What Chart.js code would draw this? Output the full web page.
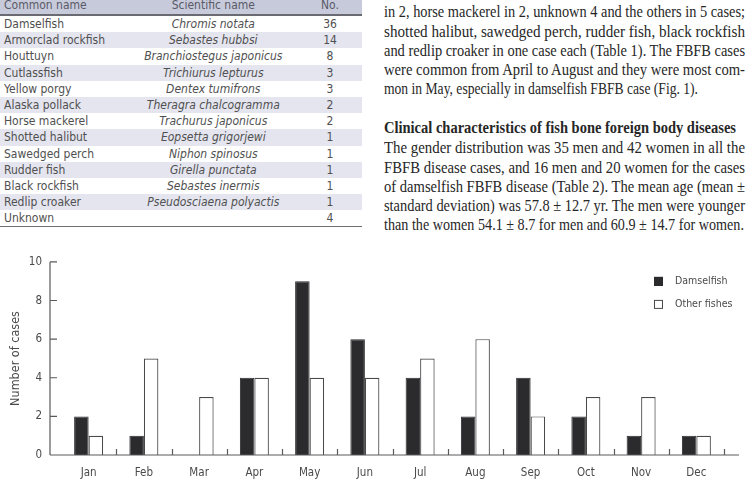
<!DOCTYPE html>
<html>
<head>
<meta charset="utf-8">
<script src="https://cdn.jsdelivr.net/npm/chart.js@4/dist/chart.umd.min.js"></script>
<style>
  html, body { margin:0; padding:0; background:#fff; width:746px; height:488px; overflow:hidden; position:relative; }
  #tbl { position:absolute; left:0; top:-4px; width:362px; border-collapse:collapse;
         font-family:'Liberation Sans Narrow','DejaVu Sans Condensed',sans-serif; font-size:12px; color:#505050; }
  #tbl th { font-weight:normal; color:#5a5a66; background:#c7cadb; height:18px; padding:0; border-bottom:2px solid #6a6a72; }
  #tbl td { height:16.2px; padding:0; line-height:16px; }
  #tbl tr.alt td { background:#e4e5ef; }
  #tbl tbody tr:last-child td { border-bottom:1.5px solid #707070; }
  .c1 { text-align:left; padding-left:4px !important; }
  .c2 { text-align:center; font-style:italic; }
  .c3 { text-align:center; width:64px; }
  #txt div { position:absolute; left:384px; height:20px; line-height:20px; white-space:nowrap;
             font-family:'Liberation Serif','DejaVu Serif',serif; font-size:16.3px; color:#262626; }
  #txt span { display:inline-block; transform-origin:0 50%; }
  #wrap { position:absolute; left:0; top:236px; width:746px; height:252px; }
</style>
</head>
<body>
<table id="tbl"><thead><tr><th class="c1">Common name</th><th class="c2" style="font-style:normal">Scientific name</th><th class="c3">No.</th></tr></thead><tbody id="tb"></tbody></table>
<div id="txt"></div>
<div id="wrap"><canvas id="c" width="746" height="252"></canvas></div>
<script>
// ---- Table 1 data ----
const commonNames = ['Damselfish','Armorclad rockfish','Houttuyn','Cutlassfish','Yellow porgy','Alaska pollack','Horse mackerel','Shotted halibut','Sawedged perch','Rudder fish','Black rockfish','Redlip croaker','Unknown'];
const scientificNames = ['Chromis notata','Sebastes hubbsi','Branchiostegus japonicus','Trichiurus lepturus','Dentex tumifrons','Theragra chalcogramma','Trachurus japonicus','Eopsetta grigorjewi','Niphon spinosus','Girella punctata','Sebastes inermis','Pseudosciaena polyactis',''];
const caseCounts = [36,14,8,3,3,2,2,1,1,1,1,1,4];

// ---- Figure 1 data ----
const months = ['Jan','Feb','Mar','Apr','May','Jun','Jul','Aug','Sep','Oct','Nov','Dec'];
const damselfish = [2,1,0,4,9,6,4,2,4,2,1,1];
const otherFishes = [1,5,3,4,4,4,5,6,2,3,3,1];
const seriesNames = ['Damselfish','Other fishes'];
const yAxisTitle = 'Number of cases';

// ---- body text ----
const textLines = [
  ['in 2, horse mackerel in 2, unknown 4 and the others in 5 cases;', false, 361],
  ['shotted halibut, sawedged perch, rudder fish, black rockfish', false, 361],
  ['and redlip croaker in one case each (Table 1). The FBFB cases', false, 361],
  ['were common from April to August and they were most com-', false, 361],
  ['mon in May, especially in damselfish FBFB case (Fig. 1).', false, 314],
  ['Clinical characteristics of fish bone foreign body diseases', true, 352],
  ['The gender distribution was 35 men and 42 women in all the', false, 361],
  ['FBFB disease cases, and 16 men and 20 women for the cases', false, 361],
  ['of damselfish FBFB disease (Table 2). The mean age (mean \u00b1', false, 361],
  ['standard deviation) was 57.8 \u00b1 12.7 yr. The men were younger', false, 361],
  ['than the women 54.1 \u00b1 8.7 for men and 60.9 \u00b1 14.7 for women.', false, 360]
];
const lineTops = [12, 31.5, 51, 70, 89.3, 128.3, 148, 167.5, 186.8, 206, 225.3];

// build table
const tb = document.getElementById('tb');
commonNames.forEach((n, i) => {
  const tr = document.createElement('tr');
  if (i % 2 === 1) tr.className = 'alt';
  [[n,'c1'],[scientificNames[i],'c2'],[String(caseCounts[i]),'c3']].forEach(([t,c]) => {
    const td = document.createElement('td'); td.className = c; td.textContent = t; tr.appendChild(td);
  });
  tb.appendChild(tr);
});

// build text lines
const txt = document.getElementById('txt');
textLines.forEach(([t, bold, target], i) => {
  const d = document.createElement('div');
  d.style.top = (lineTops[i] - 10) + 'px';
  if (bold) d.style.fontWeight = 'bold';
  const s = document.createElement('span');
  s.textContent = t;
  d.appendChild(s);
  txt.appendChild(d);
  const w = s.getBoundingClientRect().width;
  if (w > target) {
    s.style.transform = 'scaleX(' + (target / w) + ')';
  } else if (target - w > 0.5) {
    s.style.width = target + 'px';
    s.style.textAlign = 'justify';
    s.style.textAlignLast = 'justify';
  }
});

const FONT = "'Liberation Sans Narrow','DejaVu Sans Condensed',sans-serif";
const DARK = '#2b2b2e';

const axesPlugin = {
  id: 'axesPlugin',
  afterDatasetsDraw(chart) {
    const {ctx, chartArea: a, scales: {x, y}} = chart;
    ctx.save();
    ctx.strokeStyle = '#5a5a5a';
    ctx.lineWidth = 1.2;
    const ax = a.left - 11;
    ctx.beginPath();
    ctx.moveTo(ax, a.top); ctx.lineTo(ax, a.bottom);
    ctx.moveTo(ax, a.bottom); ctx.lineTo(a.right + 15, a.bottom);
    y.ticks.forEach(t => {
      const py = y.getPixelForValue(t.value);
      ctx.moveTo(ax, py); ctx.lineTo(ax + 7, py);
    });
    const half = (x.getPixelForValue(1) - x.getPixelForValue(0)) / 2;
    months.forEach((m, i) => {
      const px = Math.round(x.getPixelForValue(i) + half) + 0.5;
      ctx.moveTo(px, a.bottom); ctx.lineTo(px, a.bottom - 6);
    });
    ctx.stroke();
    // legend
    ctx.font = "10.5px " + FONT;
    ctx.textBaseline = 'middle';
    chart.data.datasets.forEach((ds, i) => {
      const bx = a.right - 70, by = a.top + 15 + i * 23;
      ctx.fillStyle = ds.backgroundColor;
      ctx.fillRect(bx, by, 9, 9);
      ctx.lineWidth = 1;
      ctx.strokeStyle = ds.borderColor;
      ctx.strokeRect(bx + 0.5, by + 0.5, 8, 8);
      ctx.fillStyle = '#4a4a4a';
      ctx.fillText(ds.label, a.right - 49, by + 4.5);
    });
    ctx.restore();
  }
};

new Chart(document.getElementById('c'), {
  type: 'bar',
  data: {
    labels: months,
    datasets: [
      { label: seriesNames[0], data: damselfish, backgroundColor: DARK, borderColor: DARK, borderWidth: 1 },
      { label: seriesNames[1], data: otherFishes, backgroundColor: '#ffffff', borderColor: '#4a4a4a', borderWidth: 1.2 }
    ]
  },
  options: {
    responsive: false,
    animation: false,
    devicePixelRatio: 1,
    categoryPercentage: 0.525,
    barPercentage: 1,
    layout: { padding: { top: 18, right: 22, left: 0, bottom: 0 } },
    plugins: { legend: { display: false }, tooltip: { enabled: false } },
    scales: {
      x: {
        grid: { display: false, drawTicks: false },
        border: { display: false },
        ticks: { color: '#4a4a4a', font: { family: FONT, size: 11.5 }, padding: 11, maxRotation: 0, autoSkip: false },
        afterFit(s) { s.height = 33; }
      },
      y: {
        min: 0, max: 10,
        grid: { display: false, drawTicks: false },
        border: { display: false },
        ticks: { stepSize: 2, color: '#4a4a4a', font: { family: FONT, size: 11.5 }, padding: 19 },
        title: { display: true, text: yAxisTitle, color: '#4a4a4a', font: { family: FONT, size: 12.5 }, padding: { top: 8, bottom: 0 } },
        afterFit(s) { s.width = 61; }
      }
    }
  },
  plugins: [axesPlugin]
});
</script>
</body>
</html>
